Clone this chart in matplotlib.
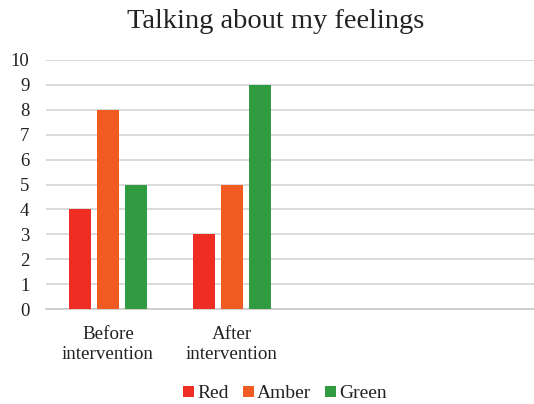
import matplotlib
matplotlib.use("Agg")
import matplotlib.pyplot as plt
import numpy as np

categories = ["Before\nintervention", "After\nintervention", "", ""]
series_names = ["Red", "Amber", "Green"]
red = [4, 3, 0, 0]
amber = [8, 5, 0, 0]
green = [5, 9, 0, 0]
colors = ["#EE2D24", "#F05B22", "#319B42"]
yticks = list(range(0, 11))

plt.rcParams['font.family'] = 'serif'
plt.rcParams['font.serif'] = ['Liberation Serif', 'DejaVu Serif']

fig = plt.figure(figsize=(5.34, 4.04), dpi=100)
ax = fig.add_axes([46/534, 1-309/404, 1-46/534, (309-60)/404])

x = np.arange(len(categories))
step = 28/124
width = 22/124
data = [red, amber, green]
n_real = 2
for i, (name, vals, c) in enumerate(zip(series_names, data, colors)):
    ax.bar(x[:n_real] + (i-1)*step, vals[:n_real], width=width, color=c, label=name, zorder=3)

ax.set_ylim(0, 10)
ax.set_yticks(yticks)
ax.set_xlim(-0.5, (534-46)/124 - 0.5)
ax.set_xticks(x)
ax.set_xticklabels(categories, fontsize=13.7, linespacing=1.17, color="#222222")
ax.tick_params(axis='y', labelsize=13.5, length=0, pad=12, colors="#222222")
ax.tick_params(axis='x', length=0, pad=12.5)
ax.grid(axis='y', color="#D4D4D4", linewidth=1.2, zorder=0)
for s in ["top", "right", "left"]:
    ax.spines[s].set_visible(False)
ax.spines["bottom"].set_color("#C8C8C8")
ax.spines["bottom"].set_linewidth(1.2)

fig.text(275.5/534, 1-21/404, "Talking about my feelings", ha="center", va="center", fontsize=20.5, color="#222222")

leg = fig.legend(loc="center", bbox_to_anchor=(285/534, 1-394/404), ncol=3, frameon=False,
                 fontsize=14, handlelength=0.55, handleheight=0.55, handletextpad=0.15, columnspacing=0.75)
for t in leg.get_texts():
    t.set_color("#222222")

fig.savefig("out.png", dpi=100)
